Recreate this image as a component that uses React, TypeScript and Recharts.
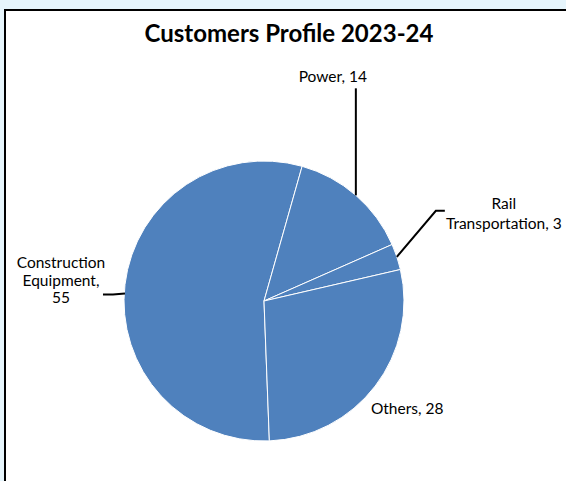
import { PieChart, Pie, Cell } from "recharts";

const categories = ["Construction Equipment", "Power", "Rail Transportation", "Others"];
const values = [55, 14, 3, 28];

// words per line when the "name, value" label is wrapped
const labelWrap: Record<string, number[]> = {
  "Construction Equipment": [1, 1, 1],
  Power: [2],
  "Rail Transportation": [1, 2],
  Others: [2],
};

// label placement relative to the point where the slice's mid angle meets the rim
const labelLayout: Record<
  string,
  { dx: number; dy: number; lineHeight: number; leader: number[][] }
> = {
  "Construction Equipment": { dx: -64, dy: -16, lineHeight: 17.5, leader: [[0, 9], [-12, 10], [-22, 10]] },
  Power: { dx: -23, dy: -113, lineHeight: 18, leader: [[0, 0], [0, -107]] },
  "Rail Transportation": { dx: 107, dy: -48, lineHeight: 20, leader: [[0, 0], [39, -46], [48, -46]] },
  Others: { dx: 32, dy: 28, lineHeight: 18, leader: [] },
};

const data = categories.map((name, i) => ({ name, value: values[i] }));

const FONT = "Lato, 'Open Sans', sans-serif";
const RAD = Math.PI / 180;

const renderLabel = (props: any) => {
  const { cx, cy, midAngle, outerRadius } = props;
  const name = props.name ?? props.payload?.name;
  const value = props.value ?? props.payload?.value;
  const layout = labelLayout[name];
  if (!layout) return null;
  const ax = cx + outerRadius * Math.cos(-midAngle * RAD);
  const ay = cy + outerRadius * Math.sin(-midAngle * RAD);

  const words = `${name}, ${value}`.split(" ");
  const lines: string[] = [];
  let k = 0;
  for (const n of labelWrap[name]) {
    lines.push(words.slice(k, k + n).join(" "));
    k += n;
  }

  const pts = layout.leader.map(([x, y]) => `${ax + x},${ay + y}`).join(" ");

  return (
    <g>
      {layout.leader.length > 0 && (
        <polyline points={pts} fill="none" stroke="#000" strokeWidth={2} />
      )}
      <text
        x={ax + layout.dx}
        y={ay + layout.dy}
        textAnchor="middle"
        fontFamily={FONT}
        fontSize={15.5}
        fill="#000"
      >
        {lines.map((ln, i) => (
          <tspan key={i} x={ax + layout.dx} dy={i === 0 ? 0 : layout.lineHeight}>
            {ln}
          </tspan>
        ))}
      </text>
    </g>
  );
};

export default function App() {
  return (
    <div
      style={{
        position: "fixed",
        left: 0,
        top: 0,
        width: 566,
        height: 481,
        background: "#e6f5fc",
        overflow: "hidden",
      }}
    >
      <div
        style={{
          position: "absolute",
          left: 4,
          top: 9,
          width: 620,
          height: 540,
          border: "2px solid #000",
          background: "#fff",
        }}
      >
        <div
          style={{
            position: "absolute",
            left: 0,
            top: 7,
            width: 566,
            textAlign: "center",
            fontFamily: FONT,
            fontWeight: 700,
            fontSize: 24,
            color: "#000",
          }}
        >
          Customers Profile 2023-24
        </div>
        <PieChart width={600} height={520} style={{ position: "absolute", left: 0, top: 0 }}>
          <Pie
            data={data}
            dataKey="value"
            nameKey="name"
            cx={253}
            cy={285}
            outerRadius={140}
            startAngle={272.2}
            endAngle={-87.8}
            stroke="#fff"
            strokeWidth={1}
            label={renderLabel}
            labelLine={false}
            isAnimationActive={false}
          >
            {data.map((d) => (
              <Cell key={d.name} fill="#4f81bd" />
            ))}
          </Pie>
        </PieChart>
      </div>
    </div>
  );
}
